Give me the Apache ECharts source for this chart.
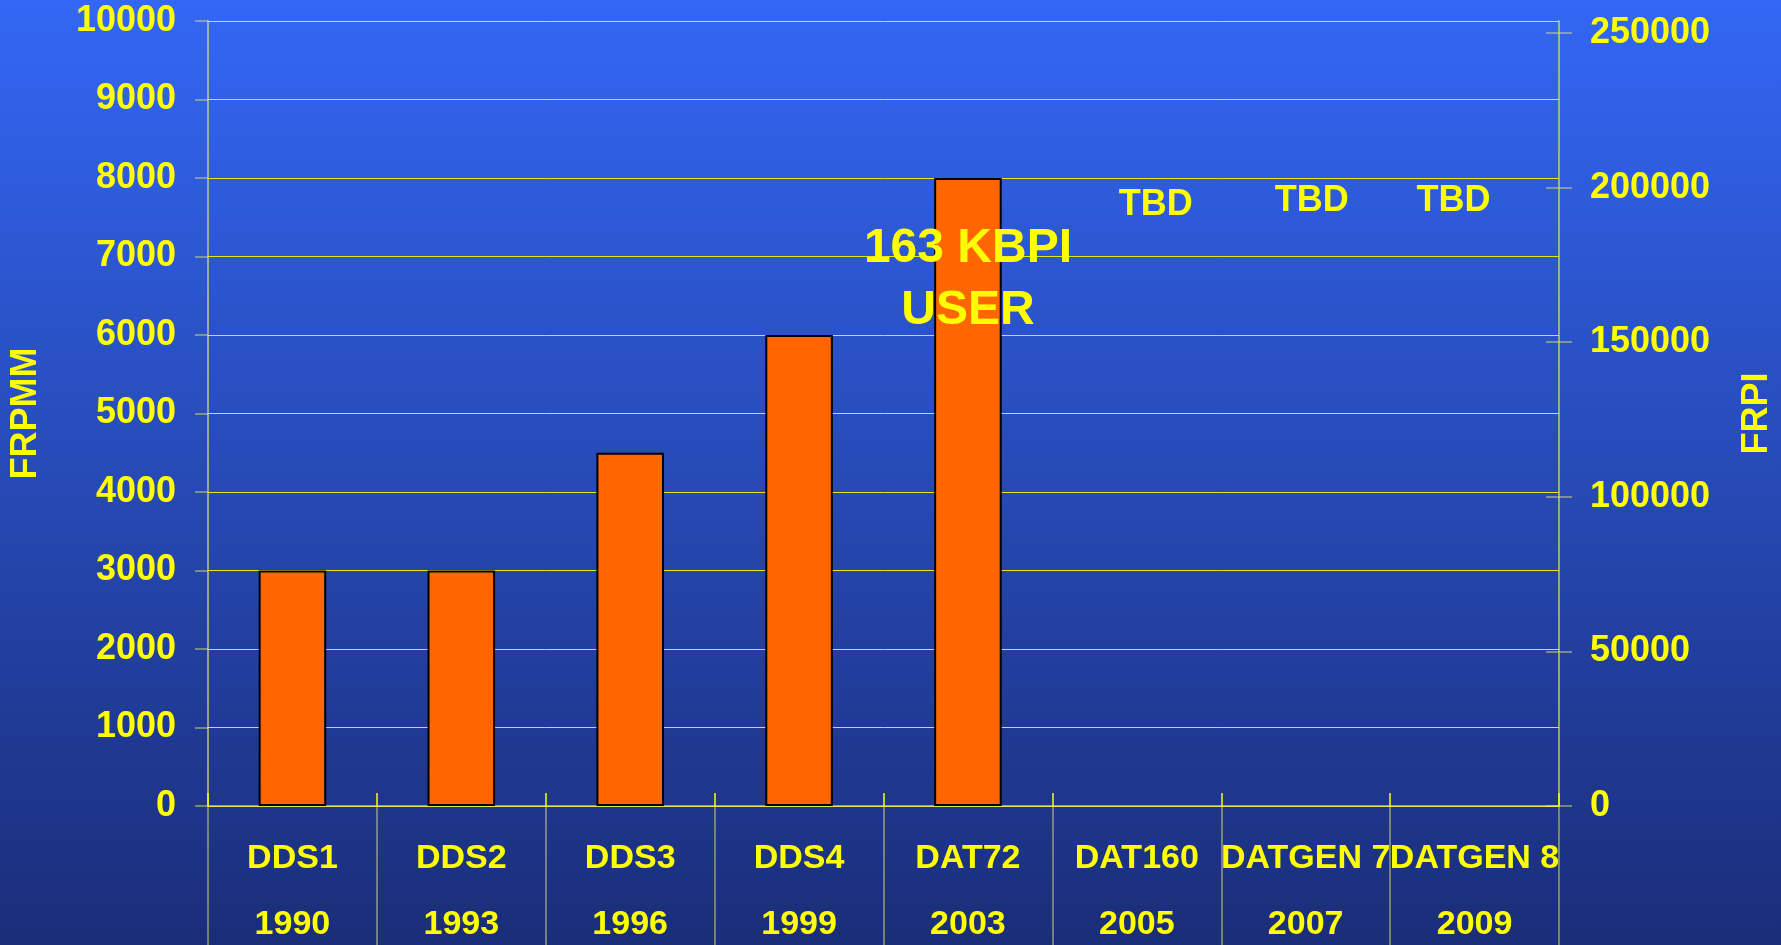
<!DOCTYPE html>
<html>
  <head>
    <meta charset="utf-8" />
    <title>FRPMM / FRPI</title>
    <script src="https://cdn.jsdelivr.net/npm/echarts@6/dist/echarts.min.js"></script>
    <style>
      * {
        margin: 0;
        padding: 0;
        box-sizing: border-box;
      }
    </style>
  </head>
  <body>
    <div id="main" style="width: 1781px; height: 945px"></div>
    <script type="text/javascript">
      // data
      const formats = ["DDS1", "DDS2", "DDS3", "DDS4", "DAT72", "DAT160", "DATGEN 7", "DATGEN 8"];
      const years = ["1990", "1993", "1996", "1999", "2003", "2005", "2007", "2009"];
      const frpmm = [3000, 3000, 4500, 6000, 8000, null, null, null];
      const tbdLevel = [null, null, null, null, null, 7650, 7700, 7700];
      const kbpiNote = [null, null, null, null, 6700, null, null, null];
      const leftMax = 10000, leftStep = 1000;
      const rightMax = 250000, rightStep = 50000;

      const categories = formats.map((f, i) => f + "\n" + years[i]);

      const yellow = "#ffff00";
      const axisOlive = "rgba(230,230,110,0.6)";
      const gridYellow = "#e6e610";
      const font = "'Liberation Sans', Arial, sans-serif";
      const plain = (v) => String(v);

      var myChart = echarts.init(document.getElementById("main"));

      // small nudges so the TBD text boxes sit where they do on the slide
      const tbdShift = [0, 0, 0, 0, 0, 19, 6, -21];

      var option = {
        backgroundColor: {
          type: "linear",
          x: 0, y: 0, x2: 0, y2: 1,
          colorStops: [
            { offset: 0, color: "#3367f4" },
            { offset: 1, color: "#1a2d78" },
          ],
        },
        textStyle: { fontFamily: font, fontWeight: "bold" },
        grid: [
          { left: 208, right: 222, top: 21, bottom: 139, outerBoundsMode: "none", containLabel: false },
          { left: 208, right: 222, top: 33, bottom: 139, outerBoundsMode: "none", containLabel: false },
        ],
        xAxis: [
          {
            type: "category",
            gridIndex: 0,
            data: categories,
            position: "bottom",
            axisLine: { lineStyle: { color: axisOlive, width: 2 } },
            axisTick: { show: true, length: 140, lineStyle: { color: axisOlive, width: 1.5 } },
            axisLabel: {
              interval: 0,
              color: yellow,
              fontSize: 34,
              fontWeight: "bold",
              fontFamily: font,
              lineHeight: 66,
              margin: 20,
            },
          },
          {
            // short upward part of the category separators
            type: "category",
            gridIndex: 0,
            data: categories,
            position: "bottom",
            axisLine: { show: false },
            axisTick: { show: true, inside: true, length: 13, lineStyle: { color: yellow, width: 1.5 } },
            axisLabel: { show: false },
          },
          {
            type: "category",
            gridIndex: 1,
            data: categories,
            show: false,
          },
        ],
        yAxis: [
          {
            type: "value",
            gridIndex: 0,
            position: "left",
            min: 0,
            max: leftMax,
            interval: leftStep,
            name: "FRPMM",
            nameLocation: "middle",
            nameRotate: 90,
            nameGap: 164,
            nameTextStyle: { color: yellow, fontSize: 36, fontWeight: "bold", fontFamily: font },
            axisLine: { show: true, lineStyle: { color: axisOlive, width: 2 } },
            axisTick: { show: true, length: 13, lineStyle: { color: axisOlive, width: 1.5 } },
            axisLabel: { color: yellow, fontSize: 36, fontWeight: "bold", fontFamily: font, margin: 32, formatter: plain },
            splitLine: { show: true, lineStyle: { color: gridYellow, width: 1 } },
          },
          {
            // right frame line of the plot + FRPI title
            type: "value",
            gridIndex: 0,
            position: "right",
            min: 0,
            max: 1,
            name: "FRPI",
            nameLocation: "middle",
            nameRotate: 90,
            nameGap: 180,
            nameTextStyle: { color: yellow, fontSize: 36, fontWeight: "bold", fontFamily: font },
            axisLine: { show: true, lineStyle: { color: axisOlive, width: 2 } },
            axisTick: { show: false },
            axisLabel: { show: false },
            splitLine: { show: false },
          },
          {
            type: "value",
            gridIndex: 1,
            position: "right",
            min: 0,
            max: rightMax,
            interval: rightStep,
            axisLine: { show: false },
            axisTick: { show: true, length: 13, lineStyle: { color: axisOlive, width: 1.5 } },
            axisLabel: { color: yellow, fontSize: 36, fontWeight: "bold", fontFamily: font, margin: 31, formatter: plain },
            splitLine: { show: false },
          },
          {
            type: "value",
            gridIndex: 1,
            position: "right",
            min: 0,
            max: rightMax,
            interval: rightStep,
            axisLine: { show: false },
            axisTick: { show: true, inside: true, length: 13, lineStyle: { color: axisOlive, width: 1.5 } },
            axisLabel: { show: false },
            splitLine: { show: false },
          },
        ],
        series: [
          {
            name: "FRPMM",
            type: "bar",
            xAxisIndex: 0,
            yAxisIndex: 0,
            data: frpmm,
            barWidth: "40%",
            itemStyle: { color: "#ff6600", borderColor: "#000000", borderWidth: 2 },
            z: 3,
          },
          {
            name: "TBD",
            type: "scatter",
            xAxisIndex: 0,
            yAxisIndex: 0,
            symbolSize: 1,
            itemStyle: { color: "rgba(0,0,0,0)", opacity: 1 },
            data: tbdLevel.map((v, i) =>
              v == null
                ? null
                : { value: v, label: { offset: [tbdShift[i], 0] } }
            ),
            label: {
              show: true,
              position: "inside",
              formatter: "TBD",
              color: yellow,
              fontSize: 36,
              fontWeight: "bold",
              fontFamily: font,
            },
            z: 5,
          },
          {
            name: "note",
            type: "scatter",
            xAxisIndex: 0,
            yAxisIndex: 0,
            symbolSize: 1,
            itemStyle: { color: "rgba(0,0,0,0)", opacity: 1 },
            data: kbpiNote,
            label: {
              show: true,
              position: "inside",
              formatter: "163 KBPI\nUSER",
              color: yellow,
              fontSize: 48,
              lineHeight: 62,
              fontWeight: "bold",
              fontFamily: font,
            },
            z: 6,
          },
        ],
      };

      myChart.setOption(option);
    </script>
  </body>
</html>
